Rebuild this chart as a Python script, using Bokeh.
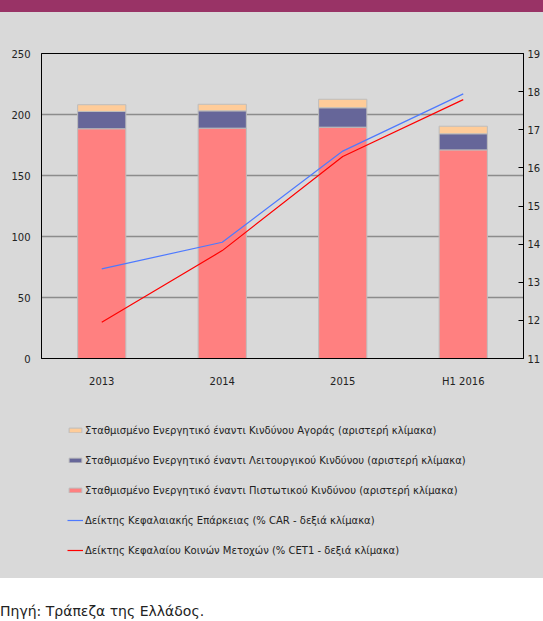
from bokeh.plotting import figure
from bokeh.models import (Range1d, LinearAxis, FactorRange, Legend, LegendItem,
                          FixedTicker, Div, ColumnDataSource, Grid)
from bokeh.layouts import column
from bokeh.embed import file_html
from bokeh.resources import INLINE

years = ["2013", "2014", "2015", "H1 2016"]
credit = [188.3, 188.8, 189.6, 171.0]
operational = [14.2, 14.2, 15.9, 13.2]
market = [5.5, 5.4, 7.0, 6.2]
car = [13.35, 14.05, 16.44, 17.94]
cet1 = [11.95, 13.83, 16.30, 17.79]
left_ticks = [0, 50, 100, 150, 200, 250]
right_ticks = [11, 12, 13, 14, 15, 16, 17, 18, 19]

labels = [
    "Σταθμισμένο Ενεργητικό έναντι Κινδύνου Αγοράς (αριστερή κλίμακα)",
    "Σταθμισμένο Ενεργητικό έναντι Λειτουργικού Κινδύνου (αριστερή κλίμακα)",
    "Σταθμισμένο Ενεργητικό έναντι Πιστωτικού Κινδύνου (αριστερή κλίμακα)",
    "Δείκτης Κεφαλαιακής Επάρκειας (% CAR - δεξιά κλίμακα)",
    "Δείκτης Κεφαλαίου Κοινών Μετοχών (% CET1 - δεξιά κλίμακα)",
]
source_text = "Πηγή: Τράπεζα της Ελλάδος."

GREY = "#d9d9d9"
FONT = "DejaVu Sans"
COLORS = ["#ff8080", "#666699", "#ffcc99"]
CAR_COLOR = "#4d79ff"
CET_COLOR = "#ff0000"
STACK = ["credit", "operational", "market"]

src = ColumnDataSource(dict(years=years, credit=credit, operational=operational,
                            market=market, car=car, cet1=cet1))

# ---- main chart ----
p = figure(x_range=FactorRange(*years, range_padding=0),
           y_range=Range1d(0, 250), width=543, height=388,
           output_backend="svg", toolbar_location=None,
           min_border_left=41, min_border_right=19,
           min_border_top=41, min_border_bottom=42, margin=0)
p.extra_y_ranges = {"right": Range1d(11, 19)}
p.background_fill_color = GREY
p.border_fill_color = GREY
p.outline_line_color = "black"
p.outline_line_alpha = 1

p.vbar_stack(STACK, x="years", width=0.4, source=src, fill_color=COLORS,
             line_color="#bdbdbd", line_width=1)
p.line("years", "car", source=src, y_range_name="right",
       line_color=CAR_COLOR, line_width=1.2)
p.line("years", "cet1", source=src, y_range_name="right",
       line_color=CET_COLOR, line_width=1.2)

p.xgrid.visible = False
p.ygrid.grid_line_color = "#8c8c8c"
p.ygrid.grid_line_width = 1.5

ya = p.yaxis[0]
ya.ticker = FixedTicker(ticks=left_ticks)
ya.major_tick_in = 0
ya.major_tick_out = 0
ya.minor_tick_line_color = None
ya.major_label_standoff = 11
ya.axis_line_color = "black"

ra = LinearAxis(y_range_name="right", ticker=FixedTicker(ticks=right_ticks))
ra.major_tick_in = 5
ra.major_tick_out = 0
ra.minor_tick_line_color = None
ra.major_label_standoff = 4
ra.axis_line_color = "black"
p.add_layout(ra, "right")

xa = p.xaxis[0]
xa.major_tick_in = 0
xa.major_tick_out = 0
xa.major_label_standoff = 17
xa.axis_line_color = "black"

for ax in (ya, ra, xa):
    ax.major_label_text_font = FONT
    ax.major_label_text_font_size = "10px"
    ax.major_label_text_color = "#222222"

# ---- legend panel (same series, drawn out of its visible range) ----
lg = figure(x_range=FactorRange(*years, range_padding=0),
            y_range=Range1d(1000, 1178), width=543, height=178,
            output_backend="svg", toolbar_location=None, min_border=0,
            margin=0, x_axis_location=None, y_axis_location=None)
lg.outline_line_color = None
lg.background_fill_color = GREY
lg.border_fill_color = GREY
for r in list(lg.center) + list(lg.renderers):
    if isinstance(r, Grid):
        r.visible = False
        r.grid_line_color = None
lg.extra_y_ranges = {"right": Range1d(1000, 1008)}
lbars = lg.vbar_stack(STACK, x="years", width=0.4, source=src, fill_color=COLORS,
                      line_color="#bdbdbd", line_width=1)
l_car = lg.line("years", "car", source=src, y_range_name="right",
                line_color=CAR_COLOR, line_width=1.2)
l_cet = lg.line("years", "cet1", source=src, y_range_name="right",
                line_color=CET_COLOR, line_width=1.2)

legend = Legend(items=[
    LegendItem(label=labels[0], renderers=[lbars[2]]),
    LegendItem(label=labels[1], renderers=[lbars[1]]),
    LegendItem(label=labels[2], renderers=[lbars[0]]),
    LegendItem(label=labels[3], renderers=[l_car]),
    LegendItem(label=labels[4], renderers=[l_cet]),
], location=(26, 21), orientation="vertical")
legend.glyph_width = 16
legend.glyph_height = 6
legend.label_height = 14
legend.spacing = 16
legend.padding = 0
legend.margin = 0
legend.label_standoff = 2
legend.border_line_color = None
legend.background_fill_alpha = 0
legend.label_text_font = FONT
legend.label_text_font_size = "10px"
legend.label_text_color = "#222222"
lg.add_layout(legend, "center")

band = Div(text="", width=543, height=12, margin=0,
           styles={"background-color": "#993366"})
foot = Div(text=source_text, width=543, height=43, margin=0,
           styles={"font-family": FONT, "font-size": "14px", "color": "#222222",
                   "background-color": "white", "padding-top": "23px",
                   "box-sizing": "border-box"})

layout = column(band, p, lg, foot, spacing=0, margin=0,
                styles={"background-color": GREY})
open("out.html", "w").write(file_html(layout, INLINE))
